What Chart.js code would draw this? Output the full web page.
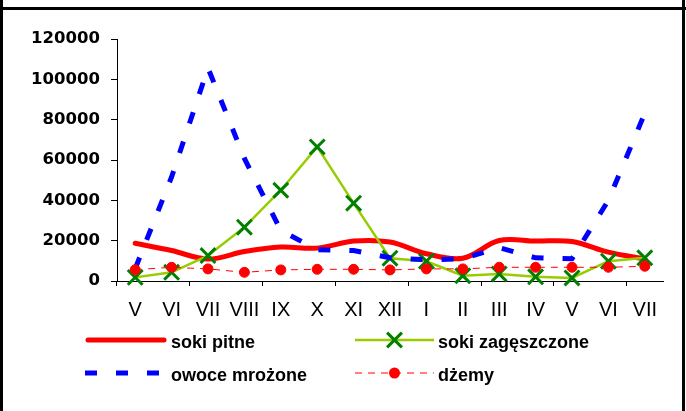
<!DOCTYPE html>
<html>
<head>
<meta charset="utf-8">
<script src="https://cdn.jsdelivr.net/npm/chart.js@4.4.1/dist/chart.umd.min.js"></script>
<style>
  html, body { margin: 0; padding: 0; background: #fff; }
  #wrap { width: 686px; height: 411px; }
</style>
</head>
<body>
<div id="wrap"><canvas id="chart" width="686" height="411"></canvas></div>
<script>
// miesiące (od maja do lipca następnego roku)
const MONTHS = ["V", "VI", "VII", "VIII", "IX", "X", "XI", "XII", "I", "II", "III", "IV", "V", "VI", "VII"];

const SOKI_PITNE      = [18700, 15100, 10900, 14600, 16800, 16300, 19800, 19300, 13500, 11300, 20100, 19800, 19600, 14300, 10900];
const SOKI_ZAGESZCZ   = [1800, 4300, 12600, 26700, 45000, 66500, 38600, 11300, 9800, 2600, 3500, 2100, 1500, 9800, 11500];
const OWOCE_MROZONE   = [6100, 51600, 105600, 60800, 25100, 15500, 15100, 11500, 10500, 11000, 16500, 11500, 11000, 40000, 83200];
const DZEMY           = [5600, 6800, 6000, 4300, 5500, 5800, 5800, 5500, 6000, 6000, 6800, 6800, 6800, 6800, 7300];

const Y_TICKS = [0, 20000, 40000, 60000, 80000, 100000, 120000];

const FONT = "'Liberation Sans', Arial, sans-serif";
Chart.defaults.font.family = FONT;
Chart.defaults.color = "#000";

// ramka dookoła wykresu
const framePlugin = {
  id: "frame",
  afterDraw(chart) {
    const ctx = chart.ctx;
    ctx.save();
    ctx.strokeStyle = "#000";
    ctx.lineWidth = 3;
    ctx.beginPath();
    ctx.moveTo(0, 8.5); ctx.lineTo(686, 8.5);
    ctx.moveTo(1.5, 0); ctx.lineTo(1.5, 411);
    ctx.moveTo(683.5, 0); ctx.lineTo(683.5, 411);
    ctx.stroke();
    ctx.restore();
  }
};

// legenda w dwóch kolumnach pod osią
const legendPlugin = {
  id: "gridLegend",
  afterDraw(chart) {
    const ctx = chart.ctx;
    const slots = [
      { x0: 88, x1: 164, y: 340, tx: 171 },
      { x0: 355, x1: 434, y: 340, tx: 438 },
      { x0: 85, x1: 167, y: 373, tx: 171 },
      { x0: 355, x1: 434, y: 373, tx: 438 }
    ];
    chart.data.datasets.forEach((ds, i) => {
      const s = slots[i];
      ctx.save();
      ctx.strokeStyle = ds.borderColor;
      ctx.lineWidth = ds.borderWidth;
      ctx.lineCap = ds.borderCapStyle || "butt";
      ctx.setLineDash(ds.borderDash || []);
      ctx.beginPath();
      ctx.moveTo(s.x0, s.y);
      ctx.lineTo(s.x1, s.y);
      ctx.stroke();
      ctx.setLineDash([]);
      const cx = (s.x0 + s.x1) / 2;
      if (ds.pointRadius > 0) {
        if (ds.pointStyle === "crossRot") {
          const r = ds.pointRadius * Math.SQRT1_2;
          ctx.strokeStyle = ds.pointBorderColor;
          ctx.lineWidth = ds.pointBorderWidth;
          ctx.lineCap = "butt";
          ctx.beginPath();
          ctx.moveTo(cx - r, s.y - r); ctx.lineTo(cx + r, s.y + r);
          ctx.moveTo(cx + r, s.y - r); ctx.lineTo(cx - r, s.y + r);
          ctx.stroke();
        } else {
          ctx.fillStyle = ds.pointBackgroundColor;
          ctx.beginPath();
          ctx.arc(cx, s.y, ds.pointRadius + 0.5, 0, Math.PI * 2);
          ctx.fill();
        }
      }
      ctx.fillStyle = "#000";
      ctx.font = "bold 18px " + FONT;
      ctx.textBaseline = "alphabetic";
      ctx.textAlign = "left";
      ctx.fillText(ds.label, s.tx, s.y + 8);
      ctx.restore();
    });
  }
};

new Chart(document.getElementById("chart"), {
  type: "line",
  data: {
    labels: MONTHS,
    datasets: [
      {
        label: "soki pitne",
        data: SOKI_PITNE,
        borderColor: "#ff0000",
        borderWidth: 5,
        borderCapStyle: "round",
        borderJoinStyle: "round",
        tension: 0.35,
        pointRadius: 0,
        clip: false,
        order: 4
      },
      {
        label: "soki zagęszczone",
        data: SOKI_ZAGESZCZ,
        borderColor: "#99cc00",
        borderWidth: 2.5,
        tension: 0,
        pointStyle: "crossRot",
        pointRadius: 10.5,
        pointBorderWidth: 3,
        pointBorderColor: "#008000",
        pointBackgroundColor: "#008000",
        clip: false,
        order: 3
      },
      {
        label: "owoce mrożone",
        data: OWOCE_MROZONE,
        borderColor: "#0000ff",
        borderWidth: 5,
        borderDash: [12, 19],
        borderCapStyle: "butt",
        tension: 0,
        pointRadius: 0,
        clip: false,
        order: 2
      },
      {
        label: "dżemy",
        data: DZEMY,
        borderColor: "#ff0000",
        borderWidth: 1,
        borderDash: [7, 6],
        tension: 0,
        pointStyle: "circle",
        pointRadius: 5,
        pointBorderWidth: 1,
        pointBorderColor: "#ff0000",
        pointBackgroundColor: "#ff0000",
        clip: false,
        order: 1
      }
    ]
  },
  options: {
    responsive: false,
    animation: false,
    devicePixelRatio: 1,
    layout: { padding: { top: 39, right: 23, bottom: 90, left: 0 } },
    plugins: {
      legend: { display: false },
      tooltip: { enabled: false }
    },
    scales: {
      x: {
        type: "category",
        offset: true,
        border: { display: true, color: "#000", width: 1 },
        grid: {
          offset: true,
          drawOnChartArea: false,
          tickLength: 5,
          color: (c) => (c.index % 2 === 0 ? "#000" : "rgba(0,0,0,0)")
        },
        ticks: { color: "#000", font: { size: 20 }, padding: 12, maxRotation: 0, autoSkip: false },
        afterFit: (s) => { s.height = 40; }
      },
      y: {
        min: Y_TICKS[0],
        max: Y_TICKS[Y_TICKS.length - 1],
        border: { display: true, color: "#000", width: 1 },
        grid: { drawOnChartArea: false, tickLength: 6, color: "#000" },
        ticks: {
          stepSize: Y_TICKS[1] - Y_TICKS[0],
          color: "#000",
          font: { family: "'DejaVu Sans', sans-serif", size: 16.5, weight: "bold" },
          padding: 11,
          callback: (v) => String(v)
        },
        afterFit: (s) => { s.width = 117; }
      }
    }
  },
  plugins: [legendPlugin, framePlugin]
});
</script>
</body>
</html>
